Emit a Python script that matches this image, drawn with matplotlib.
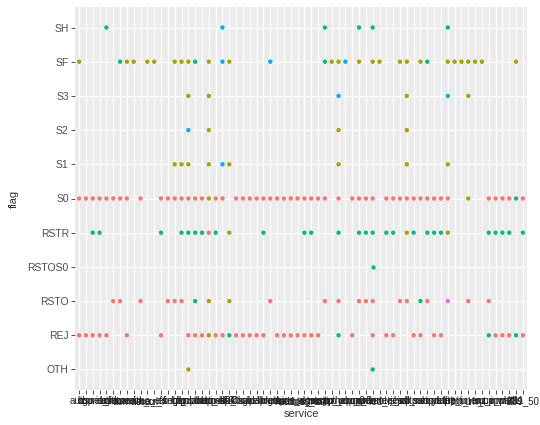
import matplotlib
matplotlib.use("Agg")
import matplotlib.pyplot as plt

plt.rcParams["font.family"] = ["Liberation Sans", "DejaVu Sans"]

services = ["auth", "bgp", "courier", "csnet_ns", "ctf", "daytime", "discard", "domain",
            "domain_u", "echo", "eco_i", "ecr_i", "efs", "exec", "finger", "ftp", "ftp_data",
            "gopher", "hostnames", "http", "http_443", "imap4", "IRC", "iso_tsap", "klogin",
            "kshell", "ldap", "link", "login", "mtp", "name", "netbios_dgm", "netbios_ns",
            "netbios_ssn", "netstat", "nnsp", "nntp", "ntp_u", "other", "pm_dump", "pop_2",
            "pop_3", "printer", "private", "red_i", "remote_job", "rje", "shell", "smtp",
            "sql_net", "ssh", "sunrpc", "supdup", "systat", "telnet", "tftp_u", "tim_i",
            "time", "urh_i", "urp_i", "uucp", "uucp_path", "vmnet", "whois", "X11", "Z39_50"]
flags = ["OTH", "REJ", "RSTO", "RSTOS0", "RSTR", "S0", "S1", "S2", "S3", "SF", "SH"]
classes = ["DoS", "normal", "Probe", "R2L", "U2R"]
class_colors = ["#F8766D", "#A3A500", "#00BF7D", "#00B0F6", "#E76BF3"]

# service index -> class, one pair of lists per flag
oth_idx = [16, 43]
oth_cls = ["normal", "Probe"]

rej_idx = [0, 1, 2, 3, 4, 7, 12, 16, 17, 18, 19, 20, 21, 22, 23, 24, 25, 26, 27, 29, 30, 31,
           32, 33, 34, 35, 38, 40, 43, 45, 46, 49, 50, 52, 53, 60, 61, 62, 63, 64, 65]
rej_cls = ["DoS"] * 10 + ["normal", "DoS", "DoS", "Probe"] + ["DoS"] * 12 + ["Probe"] + \
          ["DoS"] * 8 + ["Probe", "DoS", "DoS", "DoS", "Probe", "DoS"]

rsto_idx = [5, 6, 9, 13, 14, 15, 17, 19, 22, 28, 36, 38, 41, 42, 43, 47, 48, 50, 51, 54, 57, 60]
rsto_cls = ["DoS"] * 6 + ["Probe", "normal", "normal"] + ["DoS"] * 8 + \
           ["Probe", "DoS", "U2R", "DoS", "DoS"]

rstos0_idx = [43]
rstos0_cls = ["Probe"]

rstr_idx = [2, 3, 12, 15, 16, 17, 18, 19, 20, 22, 27, 33, 34, 38, 41, 42, 43, 45, 46, 48, 49,
            51, 52, 53, 54, 60, 61, 62, 63, 65]
rstr_cls = ["Probe"] * 7 + ["DoS", "Probe", "normal"] + ["Probe"] * 9 + ["normal", "Probe"] + \
           ["Probe"] * 3 + ["normal"] + ["Probe"] * 5

s0_idx = [0, 1, 2, 3, 4, 5, 6, 7, 9, 12, 13, 14, 15, 16, 17, 18, 19, 20, 21, 23, 24, 25, 26,
          27, 28, 29, 30, 31, 32, 33, 34, 35, 36, 38, 40, 41, 42, 43, 45, 46, 47, 48, 49, 50,
          51, 52, 53, 54, 57, 60, 61, 62, 63, 64, 65]
s0_cls = ["DoS"] * 16 + ["normal"] + ["DoS"] * 31 + ["normal"] + ["DoS"] * 4 + ["Probe", "DoS"]

s1_idx = [14, 15, 16, 19, 21, 22, 38, 48, 54]
s1_cls = ["normal"] * 4 + ["R2L"] + ["normal"] * 4

s2_idx = [16, 19, 38, 48]
s2_cls = ["R2L", "normal", "normal", "normal"]

s3_idx = [16, 19, 38, 48, 54, 57]
s3_cls = ["normal", "normal", "R2L", "normal", "R2L", "normal"]

sf_idx = [0, 6, 7, 8, 10, 11, 14, 15, 16, 17, 19, 21, 22, 28, 36, 37, 38, 39, 41, 43, 44, 47,
          48, 50, 51, 54, 55, 56, 57, 58, 59, 64]
sf_cls = ["normal", "Probe"] + ["normal"] * 7 + ["Probe", "normal", "R2L", "normal", "R2L",
          "Probe", "normal", "normal", "R2L"] + ["normal"] * 6 + ["Probe"] + ["normal"] * 7

sh_idx = [4, 21, 36, 41, 43, 54]
sh_cls = ["Probe", "R2L", "Probe", "Probe", "Probe", "Probe"]

rows = [(oth_idx, oth_cls), (rej_idx, rej_cls), (rsto_idx, rsto_cls), (rstos0_idx, rstos0_cls),
        (rstr_idx, rstr_cls), (s0_idx, s0_cls), (s1_idx, s1_cls), (s2_idx, s2_cls),
        (s3_idx, s3_cls), (sf_idx, sf_cls), (sh_idx, sh_cls)]

colour = dict(zip(classes, class_colors))

fig = plt.figure(figsize=(5.4, 4.25), dpi=100)
ax = fig.add_axes([75 / 540, 1 - 390 / 425, 452 / 540, 383 / 425])
ax.set_facecolor("#EBEBEB")

for y, (idx, cls) in enumerate(rows):
    ax.scatter(idx, [y] * len(idx), c=[colour[c] for c in cls], s=10, linewidths=0, zorder=3)

ax.set_xlim(-0.6, len(services) - 1 + 0.6)
ax.set_ylim(-0.6, len(flags) - 1 + 0.6)
ax.set_xticks(range(len(services)))
ax.set_xticklabels(services, fontsize=7, color="#222222")
ax.set_yticks(range(len(flags)))
ax.set_yticklabels(flags, fontsize=7.5, color="#4D4D4D")
ax.grid(True, color="white", linewidth=0.9, zorder=0)
ax.set_axisbelow(True)
for s in ax.spines.values():
    s.set_visible(False)
ax.tick_params(length=3, width=0.6, color="#333333", pad=1.5)
ax.set_xlabel("service", fontsize=8, labelpad=2, color="#333333")
ax.set_ylabel("flag", fontsize=8, labelpad=6, color="#333333")

fig.savefig("out.png", dpi=100)
